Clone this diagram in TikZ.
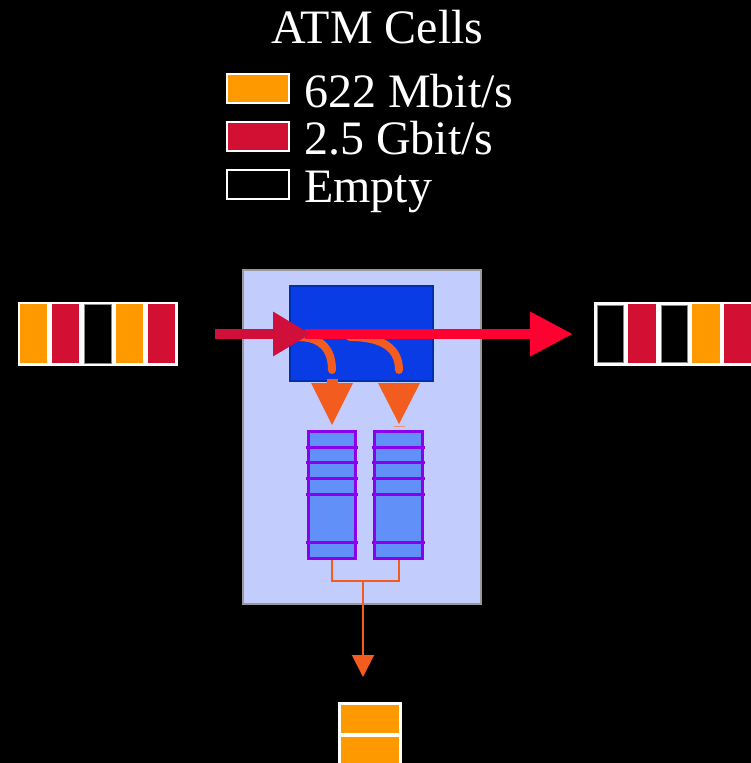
\documentclass[tikz,border=0pt]{standalone}
\usepackage{fontspec}
\setmainfont{Liberation Serif}
\usetikzlibrary{arrows.meta}
\definecolor{cellorange}{HTML}{FF9900}
\definecolor{cellred}{HTML}{D21034}
\definecolor{arrowcrimson}{HTML}{D0103A}
\definecolor{arrowred}{HTML}{FF0030}
\definecolor{flow}{HTML}{F25C1E}
\definecolor{panel}{HTML}{C2CDFE}
\definecolor{panelborder}{HTML}{999999}
\definecolor{switchblue}{HTML}{0A3CE6}
\definecolor{switchborder}{HTML}{0030B0}
\definecolor{queuefill}{HTML}{6090F8}
\definecolor{queueborder}{HTML}{8800EE}
\definecolor{emptyborder}{HTML}{888888}
\definecolor{tick}{HTML}{E8907A}
\begin{document}
\begin{tikzpicture}[x=1pt,y=-1pt,
  bigtext/.style={text=white,font=\fontsize{48}{56}\selectfont,inner sep=0pt},
  frame/.style={fill=white,draw=none},
  vcell/.style={minimum width=27pt,minimum height=59pt,inner sep=0pt,outer sep=0pt},
  hcell/.style={minimum width=58pt,minimum height=28pt,inner sep=0pt,outer sep=0pt},
  orangecell/.style={fill=cellorange},
  redcell/.style={fill=cellred},
  emptycell/.style={fill=black,draw=emptyborder,line width=1pt},
  legendbox/.style={minimum width=62pt,minimum height=29pt,inner sep=0pt,draw=white,line width=2pt},
  queue/.style={fill=queuefill,draw=queueborder,line width=3pt,minimum height=127pt,inner sep=0pt},
  qline/.style={draw=queueborder,line width=3pt},
  flowline/.style={draw=flow,line width=2pt},
  curve/.style={draw=flow,line width=8pt,line cap=round}
]
\fill[black] (0,0) rectangle (751,763);
\useasboundingbox (0,0) rectangle (751,763);

% title and legend
\node[bigtext,anchor=base] (title) at (377.5,43) {ATM Cells};
\node[legendbox,fill=cellorange] (lg1) at (258,88.5) {};
\node[legendbox,fill=cellred] (lg2) at (258,136.5) {};
\node[legendbox,fill=black] (lg3) at (258,184.5) {};
\node[bigtext,anchor=base west] (lt1) at (304,107) {622 Mbit/s};
\node[bigtext,anchor=base west] (lt2) at (304,154) {2.5 Gbit/s};
\node[bigtext,anchor=base west] (lt3) at (304,202) {Empty};

% panel and switch
\node[fill=panel,draw=panelborder,line width=2pt,minimum width=238pt,minimum height=334pt,inner sep=0pt] (panel) at (362,437) {};
\node[fill=switchblue,draw=switchborder,line width=2pt,minimum width=143pt,minimum height=95pt,inner sep=0pt] (switch) at (361.5,333.5) {};

% input cells
\node[frame,minimum width=160pt,minimum height=64pt,inner sep=0pt] (inframe) at (98,334) {};
\node[vcell,orangecell] (in1) at (33.5,333.5) {};
\node[vcell,redcell] (in2) at (65.5,333.5) {};
\node[vcell,emptycell] (in3) at (97.5,333.5) {};
\node[vcell,orangecell] (in4) at (129.5,333.5) {};
\node[vcell,redcell] (in5) at (161.5,333.5) {};

% output cells
\node[frame,minimum width=170pt,minimum height=64pt,inner sep=0pt] (outframe) at (679,334) {};
\node[vcell,emptycell,minimum width=26pt,minimum height=57pt] (out1) at (610,333.5) {};
\node[vcell,redcell,minimum width=28pt] (out2) at (642,333.5) {};
\node[vcell,emptycell,minimum width=26pt,minimum height=57pt] (out3) at (674,333.5) {};
\node[vcell,orangecell,minimum width=28pt] (out4) at (706,333.5) {};
\node[vcell,redcell,minimum width=28pt] (out5) at (738,333.5) {};

% orange curves inside switch
\draw[curve] (298,337) .. controls (322,337) and (332,350) .. (332,370);
\draw[curve] (350,337) .. controls (385,337) and (399,350) .. (399,370);

% red arrows
\coordinate (inStart) at (215,334);
\coordinate (mid) at (311,334);
\coordinate (outEnd) at (573,334);
\draw[arrowred,line width=10pt,-{Triangle[length=43pt,width=42pt]}] (305,334) -- (outEnd);
\draw[arrowcrimson,line width=10pt,-{Triangle[length=38pt,width=42pt]}] (inStart) -- (mid);

% orange drop triangles
\fill[flow] (327,379) rectangle (338,384);
\fill[flow] (311,383) -- (353,383) -- (332,425) -- cycle;
\fill[flow] (378,383) -- (420,383) -- (399,424) -- cycle;
\draw[tick,line width=1.5pt] (394,426.5) -- (405,426.5);

% queues
\node[queue,minimum width=47pt] (q1) at (332,494.5) {};
\node[queue,minimum width=48pt] (q2) at (398.5,494.5) {};
\foreach \yy in {447,462,478,494,542}{
  \draw[qline] (306,\yy) -- (358,\yy);
  \draw[qline] (372,\yy) -- (425,\yy);
}

% merge connector
\coordinate (join) at (363,581);
\coordinate (outTip) at (363,677);
\draw[flowline] (q1.south) |- (join) -| (q2.south);
\draw[flowline,-{Triangle[length=22pt,width=22pt]}] (join) -- (outTip);

% output stack
\node[frame,minimum width=64pt,minimum height=70pt,inner sep=0pt] (stack) at (370,737) {};
\node[hcell,orangecell] (s1) at (370,719) {};
\node[hcell,orangecell] (s2) at (370,751) {};
\end{tikzpicture}
\end{document}
